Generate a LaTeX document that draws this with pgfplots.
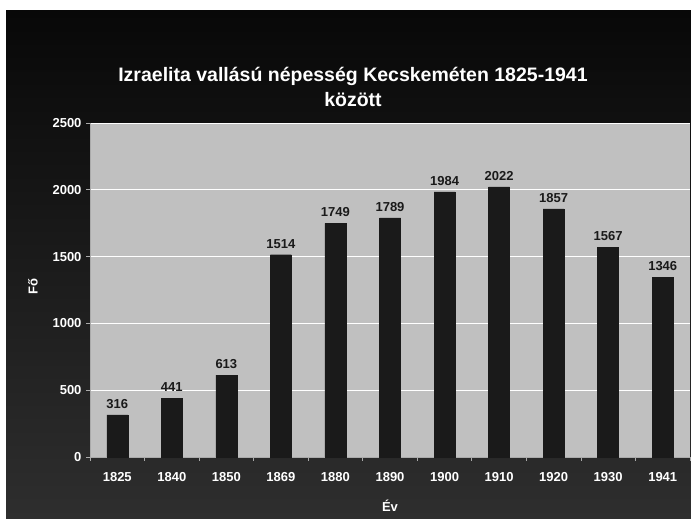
\documentclass[border=0pt]{standalone}
\usepackage{pgfplots}
\pgfplotsset{compat=1.18}
\usepackage{fontspec}
\setmainfont{Liberation Sans}
\definecolor{bgtop}{RGB}{8,8,8}
\definecolor{bgbot}{RGB}{46,46,46}
\definecolor{plotbg}{RGB}{192,192,192}
\definecolor{barc}{RGB}{26,26,26}
\definecolor{axc}{RGB}{170,170,170}
\begin{document}
\begin{tikzpicture}[x=1pt,y=1pt]
\useasboundingbox (0,0) rectangle (691,519);
\fill[white] (0,0) rectangle (691,519);
\shade[top color=bgtop, bottom color=bgbot] (6,0) rectangle (691,508);
\node[anchor=base, text=white, font=\fontsize{19.5}{24}\selectfont\bfseries] at (353,437) {Izraelita vallású népesség Kecskeméten 1825-1941};
\node[anchor=base, text=white, font=\fontsize{19.5}{24}\selectfont\bfseries] at (353,412) {között};
\begin{axis}[
  at={(90pt,62pt)}, anchor=south west,
  scale only axis, width=600pt, height=334pt,
  ybar, bar width=21pt,
  xmin=-0.5, xmax=10.5, ymin=0, ymax=2500,
  xtick={0,...,10},
  xticklabels={1825,1840,1850,1869,1880,1890,1900,1910,1920,1930,1941},
  major x tick style={draw=none},
  minor xtick={-0.5,0.5,...,10.5},
  minor x tick style={draw=axc, line width=0.8pt},
  ytick={0,500,...,2500},
  y tick style={draw=axc, line width=0.8pt},
  tick align=outside, major tick length=4pt, minor tick length=4pt,
  axis x line*=bottom, axis y line*=left,
  axis line style={draw=axc, line width=0.8pt, -},
  axis background/.style={fill=plotbg},
  ymajorgrids, grid style={white, line width=0.8pt},
  /pgf/number format/assume math mode=true,
  /pgf/number format/set thousands separator={},
  tick label style={font=\fontsize{13}{15}\selectfont\bfseries, text=white},
  xticklabel shift=8pt,
  yticklabel shift=1pt,
  nodes near coords,
  every node near coord/.append style={font=\fontsize{13}{15}\selectfont\bfseries, text=barc, yshift=3pt},
  clip=false,
]
\addplot[fill=barc, draw=barc] coordinates {(0,316) (1,441) (2,613) (3,1514) (4,1749) (5,1789) (6,1984) (7,2022) (8,1857) (9,1567) (10,1346)};
\end{axis}
\node[rotate=90, text=white, font=\fontsize{13}{15}\selectfont\bfseries] at (33,232) {Fő};
\node[text=white, font=\fontsize{13}{15}\selectfont\bfseries] at (390,13) {Év};
\end{tikzpicture}
\end{document}
